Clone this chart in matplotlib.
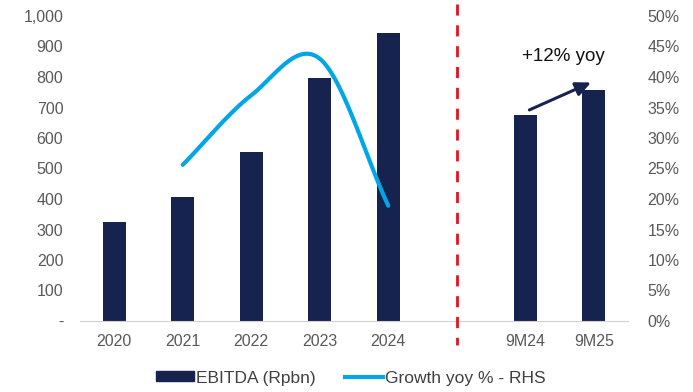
import numpy as np
import matplotlib.pyplot as plt
from matplotlib.patches import Patch
from matplotlib.lines import Line2D

plt.rcParams['font.family'] = ['Liberation Sans', 'DejaVu Sans']

categories = ["2020", "2021", "2022", "2023", "2024", "", "9M24", "9M25"]
ebitda = [325, 407, 554, 797, 944, None, 675, 757]
growth_years = ["2021", "2022", "2023", "2024"]
growth_pct = [25.6, 37.0, 43.0, 18.9]

NAVY = "#16234F"
BLUE = "#00A6E6"
RED = "#E2131E"
GREY = "#595959"


def smooth_curve(xs, ys, n=40):
    # Catmull-Rom style smoothing, like a spreadsheet "smoothed line"
    xs = np.asarray(xs, float)
    ys = np.asarray(ys, float)
    px = np.concatenate([[2 * xs[0] - xs[1]], xs, [2 * xs[-1] - xs[-2]]])
    py = np.concatenate([[2 * ys[0] - ys[1]], ys, [2 * ys[-1] - ys[-2]]])
    out_x, out_y = [], []
    for i in range(1, len(px) - 2):
        p0, p1, p2, p3 = [np.array([px[j], py[j]]) for j in range(i - 1, i + 3)]
        c1 = p1 + (p2 - p0) / 6
        c2 = p2 - (p3 - p1) / 6
        t = np.linspace(0, 1, n)[:, None]
        pts = ((1 - t) ** 3) * p1 + 3 * ((1 - t) ** 2) * t * c1 + 3 * (1 - t) * t ** 2 * c2 + t ** 3 * p2
        out_x.extend(pts[:, 0])
        out_y.extend(pts[:, 1])
    return np.array(out_x), np.array(out_y)


fig = plt.figure(figsize=(6.93, 3.92), dpi=100)
ax = fig.add_axes([80 / 693, 1 - 321 / 392, 548 / 693, 305 / 392])

x = np.arange(len(categories))
bar_x = [xi for xi, v in zip(x, ebitda) if v is not None]
bar_h = [v for v in ebitda if v is not None]
ax.bar(bar_x, bar_h, width=0.33, color=NAVY, zorder=2)

ax.set_xlim(-0.5, len(categories) - 0.5)
ax.set_ylim(0, 1000)
ax.set_yticks(np.arange(0, 1001, 100))
ax.set_yticklabels(["-"] + [f"{v:,}" for v in range(100, 1001, 100)])
ax.set_xticks([xi for xi, c in zip(x, categories) if c])
ax.set_xticklabels([c for c in categories if c])

for side in ["top", "right", "left"]:
    ax.spines[side].set_visible(False)
ax.spines["bottom"].set_color("#D0D0D0")
ax.tick_params(axis="both", length=0, labelsize=11.5, colors=GREY)
ax.tick_params(axis="x", pad=9)
ax.tick_params(axis="y", pad=12)

# growth line on the right-hand axis
ax2 = ax.twinx()
gx = [categories.index(y) for y in growth_years]
sx, sy = smooth_curve(gx, growth_pct)
ax2.plot(sx, sy, color=BLUE, lw=3, solid_capstyle="round", zorder=3)
ax2.set_ylim(0, 50)
ax2.set_yticks(np.arange(0, 51, 5))
ax2.set_yticklabels([f"{v}%" for v in range(0, 51, 5)])
for side in ["top", "right", "left", "bottom"]:
    ax2.spines[side].set_visible(False)
ax2.tick_params(axis="y", length=0, labelsize=11.5, colors=GREY, pad=14)

# divider between full years and nine-month figures
sep = categories.index("")
ax.plot([sep, sep], [1.04, -0.08], transform=ax.get_xaxis_transform(),
        color=RED, lw=2, ls=(0, (4, 3.5)), clip_on=False, zorder=4)

# yoy arrow between 9M24 and 9M25
i24, i25 = categories.index("9M24"), categories.index("9M25")
ax.annotate("", xy=(i25 - 0.04, 782), xytext=(i24 + 0.06, 692),
            arrowprops=dict(arrowstyle="-|>,head_length=0.9,head_width=0.42",
                            color=NAVY, lw=2.2, shrinkA=0, shrinkB=0))
ax.text((i24 + i25) / 2 + 0.05, 866, "+12% yoy", ha="center", va="center",
        fontsize=13.5, color="#111111")

handles = [Patch(color=NAVY, label="EBITDA (Rpbn)"),
           Line2D([0], [0], color=BLUE, lw=3, label="Growth yoy % - RHS")]
fig.legend(handles=handles, loc="center", bbox_to_anchor=(0.506, 1 - 378 / 392),
           ncol=2, frameon=False, fontsize=12.5, handlelength=2.2,
           handleheight=0.5, handletextpad=0.1, columnspacing=1.7,
           labelcolor="#404040")

fig.savefig("out.png", dpi=100)
